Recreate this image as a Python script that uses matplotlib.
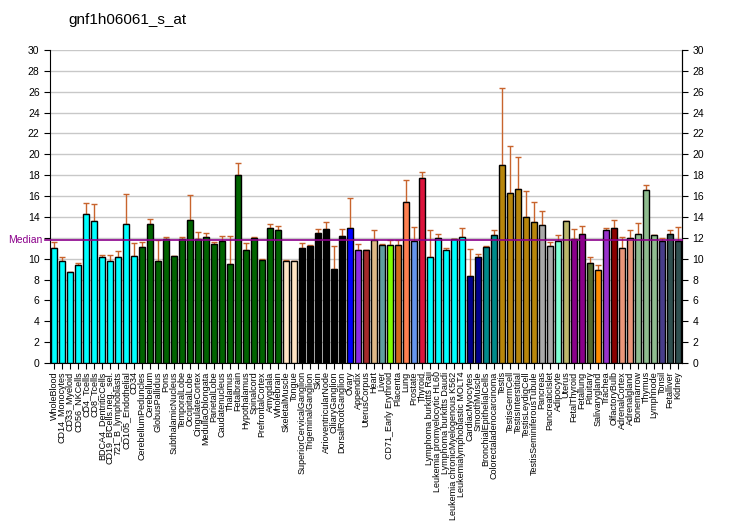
import numpy as np
import matplotlib.pyplot as plt
from matplotlib.transforms import blended_transform_factory

# ===============================
# Data
# ===============================
TITLE = "gnf1h06061_s_at"

tissues = [
    "WholeBlood", "CD14_Monocytes", "CD33_Myeloid", "CD56_NKCells", "CD4_Tcells",
    "CD8_Tcells", "BDCA4_DentriticCells", "CD19_BCells.neg._sel.", "721_B_lymphoblasts",
    "CD105_Endothelial", "CD34", "CerebellumPeduncles", "Cerebellum", "GlobusPallidus",
    "Pons", "SubthalamicNucleus", "TemporalLobe", "OccipitalLobe", "CingulateCortex",
    "MedullaOblongata", "ParietalLobe", "Caudatenucleus", "Thalamus", "Fetalbrain",
    "Hypothalamus", "Spinalcord", "PrefrontalCortex", "Amygdala", "Wholebrain",
    "SkeletalMuscle", "Tongue", "SuperiorCervicalGanglion", "TrigeminalGanglion", "Skin",
    "AtrioventricularNode", "CiliaryGanglion", "DorsalRootGanglion", "Ovary", "Appendix",
    "UterusCorpus", "Heart", "Liver", "CD71_Early Erythroid", "Placenta", "Lung",
    "Prostate", "Thyroid", "Lymphoma burkitts Raji", "Leukemia promyelocytic HL60",
    "Lymphoma burkitts Daudi", "Leukemia chronicMyelogenous K562",
    "Leukemialymphoblastic MOLT4", "CardiacMyocytes", "SmoothMuscle",
    "BronchialEpithelialCells", "Colorectaladenocarcinoma", "Testis", "TestisGermCell",
    "TestisInterstitial", "TestisLeydigCell", "TestisSeminiferousTubule", "Pancreas",
    "PancreaticIslet", "Adipocyte", "Uterus", "FetalThyroid", "Fetallung", "Pituitary",
    "Salivarygland", "Trachea", "OlfactoryBulb", "AdrenalCortex", "Adrenalgland",
    "Bonemarrow", "Thymus", "Lymphnode", "Tonsil", "Fetalliver", "Kidney",
]

values = [
    11.0, 9.74, 8.69, 9.36, 14.25, 13.58, 10.19, 9.74, 10.13, 13.29,
    10.22, 11.09, 13.29, 9.74, 11.88, 10.22, 11.88, 13.67, 11.88, 12.04,
    11.37, 11.69, 9.46, 17.99, 10.8, 11.95, 9.84, 12.91, 12.72, 9.74,
    9.74, 10.99, 11.18, 12.46, 12.81, 9.01, 12.14, 12.91, 10.8, 10.8,
    11.76, 11.28, 11.28, 11.28, 15.4, 11.66, 17.7, 10.13, 11.95, 10.8,
    11.85, 12.04, 8.31, 10.13, 11.09, 12.24, 18.95, 16.26, 16.65, 13.96,
    13.48, 13.19, 11.18, 11.69, 13.58, 11.85, 12.33, 9.55, 8.88, 12.72,
    12.91, 10.99, 11.95, 12.33, 16.55, 12.24, 11.69, 12.33, 11.69,
]

err_top = [
    11.6, 10.2, 8.75, 9.55, 15.3, 15.2, 10.38, 10.38, 10.7, 16.17,
    11.47, 11.57, 13.77, 11.8, 12.04, 10.22, 12.04, 16.07, 12.56, 12.43,
    11.6, 12.14, 12.14, 19.14, 11.47, 12.04, 9.94, 13.29, 13.1, 9.87,
    9.74, 11.47, 11.28, 12.81, 13.48, 11.18, 12.81, 15.78, 11.37, 10.8,
    12.72, 11.37, 11.76, 11.76, 17.5, 13.0, 18.27, 12.72, 12.33, 10.99,
    11.85, 12.91, 10.89, 10.42, 11.18, 12.72, 26.4, 20.78, 19.72, 16.45,
    15.4, 14.54, 11.57, 12.24, 13.58, 12.81, 13.1, 10.13, 9.36, 12.91,
    13.67, 12.04, 12.72, 13.39, 17.03, 12.24, 11.95, 12.72, 13.0,
]

colors = (
    ["#00FFFF"] * 11 + ["#006400"] * 18 + ["#FFE4C4"] * 2 + ["#000000"] * 6
    + ["#0000FF", "#8A2BE2", "#A52A2A", "#DEB887", "#5F9EA0", "#7FFF00",
       "#D2691E", "#FF7F50", "#6495ED", "#DC143C"]
    + ["#00FFFF"] * 5 + ["#00008B"] * 2 + ["#008B8B"] * 2 + ["#B8860B"] * 5
    + ["#A9A9A9"] * 2
    + ["#7FFFD4", "#BDB76B", "#8B008B", "#8B008B", "#556B2F", "#FF8C00",
       "#9932CC", "#8B0000", "#E9967A", "#E9967A"]
    + ["#8FBC8F"] * 3 + ["#483D8B"] + ["#2F4F4F"] * 2
)

MEDIAN = 11.76
Y_TICKS = list(range(0, 31, 2))

# ===============================
# Plot
# ===============================
plt.rcParams['font.family'] = ['Liberation Sans', 'DejaVu Sans']

fig = plt.figure(figsize=(7.32, 5.30), dpi=100)
ax = fig.add_axes([50 / 732, 167 / 530, 632 / 732, 313 / 530])

x = np.arange(len(tissues))
vals = np.array(values)
yerr_up = np.array(err_top) - vals
yerr = np.vstack([np.zeros_like(vals), yerr_up])

ax.bar(x, vals, width=0.75, color=colors, edgecolor='black', linewidth=1.0, zorder=3)
ax.errorbar(x, vals, yerr=yerr, fmt='none', ecolor='#C8642D', elinewidth=1.0,
            capsize=2, capthick=1.0, zorder=2)

# median line, reaching a little past the left axis
trans = blended_transform_factory(ax.transAxes, ax.transData)
ax.plot([-0.008, 1.0], [MEDIAN, MEDIAN], color='#8B008B', linewidth=1.2,
        transform=trans, clip_on=False, zorder=4)
ax.text(-0.012, MEDIAN, "Median", color='#8B008B', fontsize=7.5,
        ha='right', va='center', transform=trans)

ax.set_xlim(-0.5, len(tissues) - 0.5)
ax.set_ylim(0, 30)
ax.yaxis.grid(True, color='#C8C8C8', linewidth=1.0, zorder=0)
ax.set_axisbelow(True)

# left labels: "Median" takes the place of "12"
ax.set_yticks(Y_TICKS)
ax.set_yticklabels(["" if t == 12 else str(t) for t in Y_TICKS])
ax.tick_params(axis='y', labelsize=7.5, length=4)

# right axis with every label
sec = ax.secondary_yaxis('right')
sec.set_yticks(Y_TICKS)
sec.tick_params(axis='y', labelsize=7.5, length=4)

ax.set_xticks(x)
ax.set_xticklabels(tissues, rotation=90, fontsize=6.5)
ax.tick_params(axis='x', length=4, pad=2)

ax.spines['top'].set_visible(False)

fig.text(68 / 732, 1 - 20 / 530, TITLE, fontsize=11, ha='left', va='center')

fig.savefig("out.png", dpi=100)
